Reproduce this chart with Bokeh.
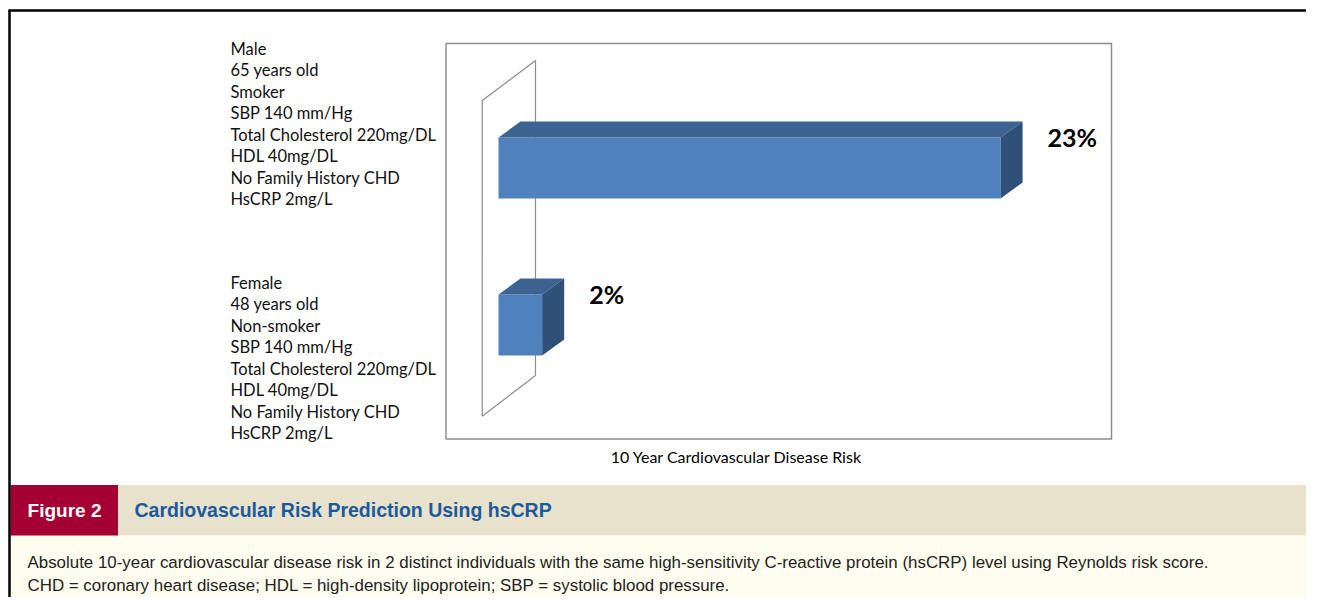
from bokeh.plotting import figure
from bokeh.models import Range1d, ColumnDataSource
from bokeh.embed import file_html
from bokeh.resources import INLINE
from bokeh.core.properties import value

# ---------------- data ----------------
categories = ["Male", "Female"]
risk_pct = [23, 2]
risk_labels = ["23%", "2%"]
male_profile = ["Male", "65 years old", "Smoker", "SBP 140 mm/Hg",
                "Total Cholesterol 220mg/DL", "HDL 40mg/DL",
                "No Family History CHD", "HsCRP 2mg/L"]
female_profile = ["Female", "48 years old", "Non-smoker", "SBP 140 mm/Hg",
                  "Total Cholesterol 220mg/DL", "HDL 40mg/DL",
                  "No Family History CHD", "HsCRP 2mg/L"]
axis_title = "10 Year Cardiovascular Disease Risk"
fig_label = "Figure 2"
fig_title = "Cardiovascular Risk Prediction Using hsCRP"
caption_lines = [
    "Absolute 10-year cardiovascular disease risk in 2 distinct individuals with the same high-sensitivity C-reactive protein (hsCRP) level using Reynolds risk score.",
    "CHD = coronary heart disease; HDL = high-density lipoprotein; SBP = systolic blood pressure.",
]

# ---------------- layout ----------------
W, H = 1306, 597
p = figure(width=W, height=H, x_range=Range1d(0, W), y_range=Range1d(H, 0),
           output_backend="svg", toolbar_location=None, min_border=0,
           x_axis_location=None, y_axis_location=None,
           outline_line_color=None, background_fill_color="white",
           border_fill_color="white")
p.grid.visible = False

# value scale (percent) for the bars
zero_px = 498.0
px_per_pct = 21.83
p.extra_x_ranges = {"risk": Range1d(-zero_px / px_per_pct, (W - zero_px) / px_per_pct)}

FRONT = "#4F81BD"
TOP = "#3D6393"
SIDE = "#2F5178"
GRAY = "#8C8C8C"

# caption backgrounds
p.quad(left=10, right=W, top=484.5, bottom=535, fill_color="#E8E1CB", line_color=None)
p.quad(left=10, right=W, top=535, bottom=H, fill_color="#FFFDEF", line_color=None)
p.quad(left=10, right=117.5, top=484.5, bottom=535, fill_color="#A50034", line_color=None)

# outer black border (left and top)
p.segment(x0=[9, 8], y0=[9.5, 10], x1=[9, W], y1=[H, 10], line_color="black", line_width=2.5)

# chart frame
p.quad(left=445.5, right=1111, top=43, bottom=438.5, fill_color=None,
       line_color=GRAY, line_width=1.5)

# 3D back wall
wall_x = [481.7, 481.7, 535, 535, 481.7]
wall_y = [415.7, 100, 60, 375, 415.7]
p.line(wall_x, wall_y, line_color=GRAY, line_width=1.2)

# bars
bar_h = 61.0
dx = 22.0 / px_per_pct
dy = 16.0
centers = [167.5 + 157.0 * i for i in range(len(categories))]
tops = [c - bar_h / 2 for c in centers]
bots = [c + bar_h / 2 for c in centers]

src = ColumnDataSource(dict(cat=categories, v=risk_pct, t=tops, b=bots,
                            lbl=risk_labels, ly=[t - 1 for t in tops]))
p.quad(left=0, right="v", top="t", bottom="b", source=src, x_range_name="risk",
       fill_color=FRONT, line_color=None)
top_xs = [[0, v, v + dx, dx] for v in risk_pct]
top_ys = [[t, t, t - dy, t - dy] for t in tops]
p.patches(top_xs, top_ys, x_range_name="risk", fill_color=TOP, line_color=None)
side_xs = [[v, v + dx, v + dx, v] for v in risk_pct]
side_ys = [[t, t - dy, b - dy, b] for t, b in zip(tops, bots)]
p.patches(side_xs, side_ys, x_range_name="risk", fill_color=SIDE, line_color=None)

# value labels
p.text(x="v", y="ly", text="lbl", source=src, x_range_name="risk", x_offset=47,
       text_baseline="middle", text_align="left", text_font=value("Lato"),
       text_font_style="bold", text_font_size="25px", text_color="black")

# category descriptions
line_gap = 21.5
for top0, lines in zip([48, 282], [male_profile, female_profile]):
    p.text(x=[230] * len(lines), y=[top0 + line_gap * k for k in range(len(lines))],
           text=lines, text_baseline="middle", text_align="left",
           text_font=value("Lato"), text_font_size="16.5px", text_color="#111111")

# axis title
p.text(x=[736], y=[455.5], text=[axis_title], text_baseline="middle", text_align="center",
       text_font=value("Lato"), text_font_size="16px", text_color="black")

# figure label & title
p.text(x=[64], y=[510], text=[fig_label], text_baseline="middle", text_align="center",
       text_font=value("Liberation Sans"), text_font_style="bold",
       text_font_size="19px", text_color="white")
p.text(x=[134], y=[509], text=[fig_title], text_baseline="middle", text_align="left",
       text_font=value("Liberation Sans"), text_font_style="bold",
       text_font_size="19.5px", text_color="#1B5A9C")

# caption
p.text(x=[27, 27], y=[562, 585], text=caption_lines, text_baseline="middle",
       text_align="left", text_font=value("Liberation Sans"),
       text_font_size="16.9px", text_color="#222222")

open("out.html", "w").write(file_html(p, INLINE))
